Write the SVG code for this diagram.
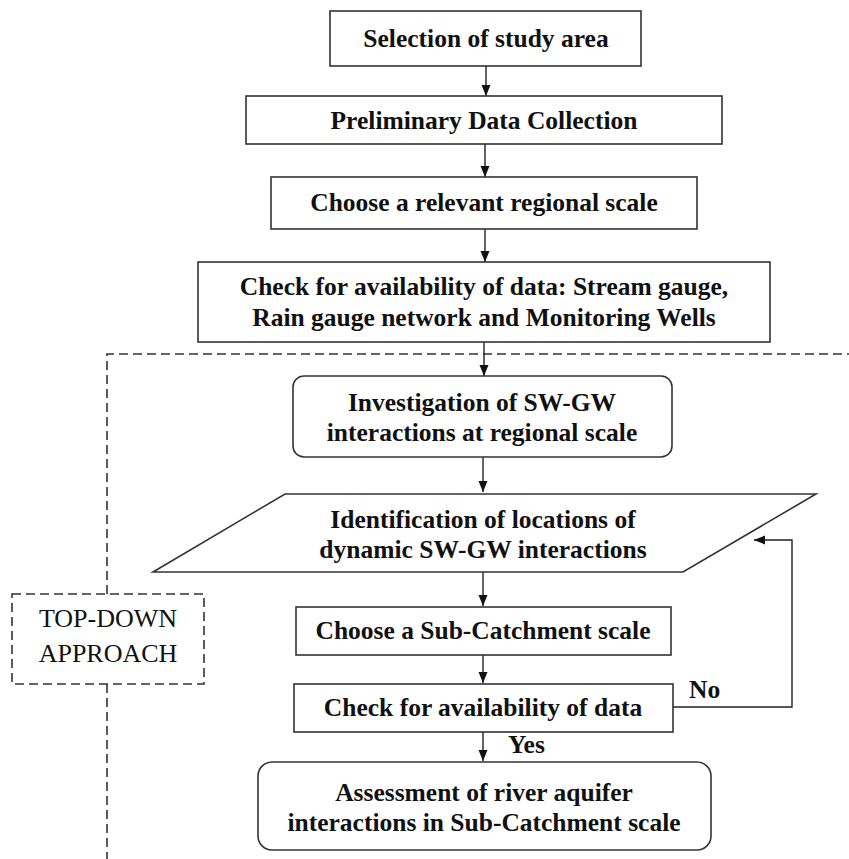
<svg xmlns="http://www.w3.org/2000/svg" width="849" height="859" viewBox="0 0 849 859">
  <style>
    .box { fill: #ffffff; stroke: #333333; stroke-width: 1.6; }
    .lbl { font-family: "Liberation Serif", "Times New Roman", serif; font-size: 25.5px; font-weight: bold; fill: #111111; text-anchor: middle; }
    .note { font-family: "Liberation Serif", "Times New Roman", serif; font-size: 25.5px; font-weight: bold; fill: #111111; }
    .plain { font-family: "Liberation Serif", "Times New Roman", serif; font-size: 26px; fill: #111111; text-anchor: middle; }
    .dash { fill: none; stroke: #333333; stroke-width: 1.6; stroke-dasharray: 9 5; }
    .link { fill: none; stroke: #222222; stroke-width: 1.4; }
  </style>
  <defs>
    <marker id="arrow" viewBox="0 0 11 10" refX="11" refY="5" markerWidth="11" markerHeight="10" markerUnits="userSpaceOnUse" orient="auto">
      <path d="M0,0.5 L11,5 L0,9.5 z" fill="#111111"/>
    </marker>
  </defs>

  <rect width="849" height="859" fill="#ffffff"/>

  <!-- top-down approach frame (dashed) -->
  <g id="approach-frame">
    <path class="dash" d="M107,684 V859"/>
    <path class="dash" d="M107,594 V354 H849"/>
  </g>
  <g id="top-down">
    <rect class="dash" x="12" y="594" width="192" height="90"/>
    <text class="plain" x="108" y="627">TOP-DOWN</text>
    <text class="plain" x="108" y="662">APPROACH</text>
  </g>

  <!-- connectors -->
  <g id="connectors">
    <path class="link" d="M486,66 V96" marker-end="url(#arrow)"/>
    <path class="link" d="M485,144 V177" marker-end="url(#arrow)"/>
    <path class="link" d="M485,229 V262" marker-end="url(#arrow)"/>
    <path class="link" d="M484,342 V376" marker-end="url(#arrow)"/>
    <path class="link" d="M483,457 V492" marker-end="url(#arrow)"/>
    <path class="link" d="M483,572 V606" marker-end="url(#arrow)"/>
    <path class="link" d="M483,655 V683" marker-end="url(#arrow)"/>
    <path class="link" d="M483,732 V761" marker-end="url(#arrow)"/>
    <path class="link" d="M673,707 H792 V540 H754" marker-end="url(#arrow)"/>
    <text class="note" x="689" y="698">No</text>
    <text class="note" x="508" y="753">Yes</text>
  </g>

  <g id="selection">
    <rect class="box" x="330" y="11" width="311" height="55"/>
    <text class="lbl" x="486" y="47">Selection of study area</text>
  </g>
  <g id="preliminary">
    <rect class="box" x="246" y="96" width="476" height="48"/>
    <text class="lbl" x="484" y="129">Preliminary Data Collection</text>
  </g>
  <g id="regional-scale">
    <rect class="box" x="271" y="177" width="426" height="52"/>
    <text class="lbl" x="484" y="211">Choose a relevant regional scale</text>
  </g>
  <g id="data-check">
    <rect class="box" x="198" y="262" width="572" height="80"/>
    <text class="lbl" x="484" y="295">Check for availability of data: Stream gauge,</text>
    <text class="lbl" x="484" y="326">Rain gauge network and Monitoring Wells</text>
  </g>
  <g id="investigation">
    <rect class="box" x="293" y="376" width="379" height="81" rx="11"/>
    <text class="lbl" x="482" y="411">Investigation of SW-GW</text>
    <text class="lbl" x="482" y="441">interactions at regional scale</text>
  </g>
  <g id="identification">
    <polygon class="box" points="285,494 816,494 683,572 153,572"/>
    <text class="lbl" x="483" y="528">Identification of locations of</text>
    <text class="lbl" x="483" y="558">dynamic SW-GW interactions</text>
  </g>
  <g id="sub-catchment">
    <rect class="box" x="296" y="607" width="375" height="48"/>
    <text class="lbl" x="483" y="639">Choose a Sub-Catchment scale</text>
  </g>
  <g id="sub-data-check">
    <rect class="box" x="294" y="684" width="379" height="48"/>
    <text class="lbl" x="483" y="716">Check for availability of data</text>
  </g>
  <g id="assessment">
    <rect class="box" x="258" y="762" width="453" height="88" rx="14"/>
    <text class="lbl" x="484" y="801">Assessment of river aquifer</text>
    <text class="lbl" x="484" y="831">interactions in Sub-Catchment scale</text>
  </g>
</svg>
